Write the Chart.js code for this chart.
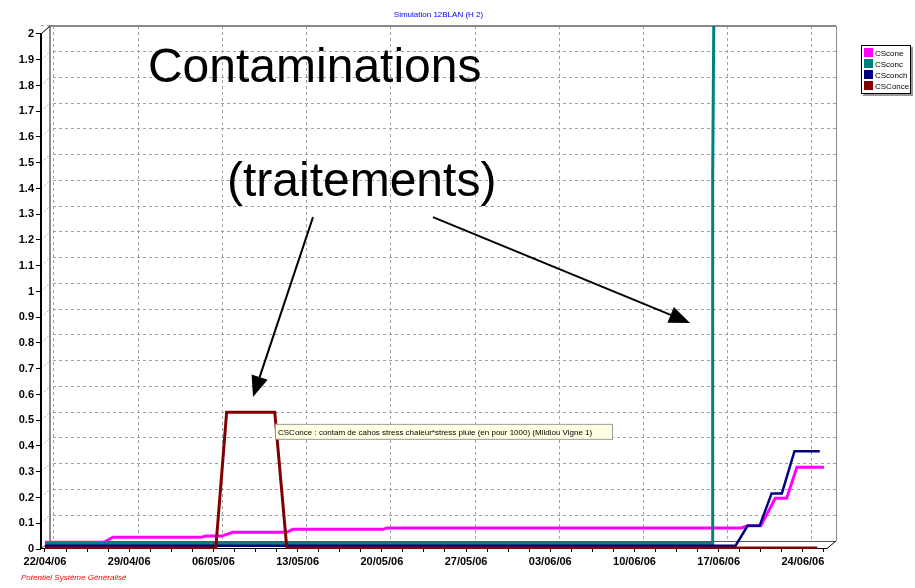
<!DOCTYPE html>
<html>
<head>
<meta charset="utf-8">
<script src="https://cdn.jsdelivr.net/npm/chart.js@4/dist/chart.umd.min.js"></script>
<style>
body{margin:0;background:#fff}
#wrap{position:relative;width:915px;height:588px}
#legende{position:absolute;left:861px;top:45px;border:1px solid #000;box-shadow:2px 2px 0 #9a9a9a;background:#fff;padding:2px 1px 1px 2px;font:8px 'Liberation Sans',Arial,sans-serif;color:#000}
#legende div{height:11px;line-height:11px;white-space:nowrap}
#legende span{display:inline-block;width:9px;height:9px;margin-right:2px;vertical-align:-1px}
</style>
</head>
<body>
<div id="wrap">
  <canvas id="myChart" width="915" height="588"></canvas>
  <div id="legende"></div>
</div>
<script>
// DONNEES (jours depuis le 22/04/06)
const dayTicks = [0, 7, 14, 21, 28, 35, 42, 49, 56, 63];
const dateLabels = ["22/04/06", "29/04/06", "06/05/06", "13/05/06", "20/05/06", "27/05/06", "03/06/06", "10/06/06", "17/06/06", "24/06/06"];
const yTicks = [0, 0.1, 0.2, 0.3, 0.4, 0.5, 0.6, 0.7, 0.8, 0.9, 1, 1.1, 1.2, 1.3, 1.4, 1.5, 1.6, 1.7, 1.8, 1.9, 2];

const seriesNoms = ["CScone", "CSconc", "CSconch", "CSConce"];
const seriesCouleurs = ["#ff00ff", "#008080", "#000080", "#800000"];

const coneJours   = [0, 4.9, 5.65, 13.0, 13.4, 14.7, 15.6, 20.1, 20.6, 28.1, 28.4, 57.9, 58.4, 59.5, 60.7, 61.65, 62.5, 64.75];
const coneValeurs = [0.026, 0.026, 0.046, 0.046, 0.05, 0.05, 0.065, 0.065, 0.0765, 0.0765, 0.0815, 0.0815, 0.09, 0.09, 0.197, 0.197, 0.317, 0.317];

const concJours   = [0, 55.5, 55.5, 55.6];
const concValeurs = [0.021, 0.021, 1.45, 2.1];

const conchJours   = [0, 57.4, 58.4, 59.4, 60.4, 61.25, 62.3, 64.4];
const conchValeurs = [0.013, 0.013, 0.09, 0.09, 0.216, 0.216, 0.38, 0.38];

const conceJours   = [0, 14.2, 15.1, 19.1, 20.1, 64.2];
const conceValeurs = [0.004, 0.004, 0.531, 0.531, 0.004, 0.004];

// bornes des axes et profondeur du cadre 3D
const xMin = -0.33, xMax = 65.75, yMax = 2.031;
const DX = 9, DY = 8;
const pxJour = 795 / (xMax - xMin);
const pxUnite = 523 / yMax;

const police = "'Liberation Sans', Arial, sans-serif";

function points(jours, valeurs) {
    return jours.map((j, i) => ({ x: j, y: valeurs[i] }));
}

// petites graduations tous les 1.75 jours
const minorTicks = [];
dayTicks.forEach(d => { for (let k = 0; k < 4; k++) { if (d + k * 1.75 <= 64.8) minorTicks.push(d + k * 1.75); } });

const datasets = [
    { label: seriesNoms[0], data: points(coneJours, coneValeurs), borderColor: seriesCouleurs[0], borderWidth: 3, order: 4 },
    { label: seriesNoms[1], data: points(concJours, concValeurs), borderColor: seriesCouleurs[1], borderWidth: 3, order: 3 },
    { label: seriesNoms[2], data: points(conchJours, conchValeurs), borderColor: seriesCouleurs[2], borderWidth: 2.5, order: 2 },
    { label: seriesNoms[3], data: points(conceJours, conceValeurs), borderColor: seriesCouleurs[3], borderWidth: 3, order: 1 }
];
datasets.forEach(d => { d.pointRadius = 0; d.tension = 0; d.fill = false; });

// legende en HTML
const legende = document.getElementById("legende");
seriesNoms.forEach((nom, i) => {
    legende.innerHTML += `<div><span style="background:${seriesCouleurs[i]}"></span>${nom}</div>`;
});

function fleche(ctx, x1, y1, x2, y2) {
    const ang = Math.atan2(y2 - y1, x2 - x1);
    const L = 21, W = 8.5;
    const bx = x2 - L * Math.cos(ang), by = y2 - L * Math.sin(ang);
    ctx.beginPath();
    ctx.moveTo(x1, y1);
    ctx.lineTo(bx, by);
    ctx.lineWidth = 2;
    ctx.strokeStyle = "#000";
    ctx.stroke();
    ctx.beginPath();
    ctx.moveTo(x2, y2);
    ctx.lineTo(bx + W * Math.sin(ang), by - W * Math.cos(ang));
    ctx.lineTo(bx - W * Math.sin(ang), by + W * Math.cos(ang));
    ctx.closePath();
    ctx.fillStyle = "#000";
    ctx.fill();
}

const cadre3D = {
    id: "cadre3D",
    beforeDatasetsDraw(chart) {
        const { ctx, chartArea: a, scales } = chart;
        const fl = a.left, fr = a.right - DX, fb = a.bottom, ft = a.top + DY;
        const bl = a.left + DX, br = a.right, bb = a.bottom - DY, bt = a.top;
        ctx.save();
        // sol et mur gauche
        ctx.fillStyle = "#fff";
        ctx.beginPath();
        ctx.moveTo(fl, fb); ctx.lineTo(fr, fb); ctx.lineTo(br, bb); ctx.lineTo(bl, bb); ctx.closePath();
        ctx.fill();
        ctx.beginPath();
        ctx.moveTo(fl, fb); ctx.lineTo(fl, ft); ctx.lineTo(bl, bt); ctx.lineTo(bl, bb); ctx.closePath();
        ctx.fill();
        // graduations sur le mur gauche
        ctx.strokeStyle = "#b0b0b0";
        ctx.lineWidth = 1;
        ctx.setLineDash([2, 2]);
        yTicks.forEach(v => {
            const y = scales.y.getPixelForValue(v);
            ctx.beginPath(); ctx.moveTo(fl, y); ctx.lineTo(bl, y - DY); ctx.stroke();
        });
        ctx.setLineDash([]);
        // aretes du fond
        ctx.strokeStyle = "#8a8a8a";
        ctx.lineWidth = 2;
        ctx.beginPath(); ctx.moveTo(bl, bb); ctx.lineTo(bl, bt); ctx.lineTo(br, bt); ctx.stroke();
        ctx.lineWidth = 1;
        ctx.beginPath(); ctx.moveTo(br + 0.5, bt); ctx.lineTo(br + 0.5, bb); ctx.stroke();
        ctx.strokeStyle = "#555";
        ctx.beginPath(); ctx.moveTo(bl, bb + 0.5); ctx.lineTo(br, bb + 0.5); ctx.stroke();
        ctx.beginPath(); ctx.moveTo(fl, fb); ctx.lineTo(bl, bb); ctx.stroke();
        // aretes de devant
        ctx.strokeStyle = "#000";
        ctx.beginPath(); ctx.moveTo(fl, fb - 0.5); ctx.lineTo(fr, fb - 0.5); ctx.lineTo(br, bb); ctx.stroke();
        ctx.beginPath(); ctx.moveTo(fl, ft); ctx.lineTo(bl, bt); ctx.stroke();
        ctx.lineWidth = 2;
        ctx.beginPath(); ctx.moveTo(fl, ft); ctx.lineTo(fl, fb); ctx.stroke();
        ctx.restore();
    },
    afterDraw(chart) {
        const { ctx, scales: { x, y } } = chart;
        ctx.save();
        ctx.fillStyle = "#000";
        ctx.textBaseline = "alphabetic";
        ctx.textAlign = "left";
        ctx.font = "48px " + police;
        ctx.fillText("Contaminations", x.getPixelForValue(8.56), y.getPixelForValue(1.814));
        ctx.fillText("(traitements)", x.getPixelForValue(15.13), y.getPixelForValue(1.371));
        fleche(ctx, x.getPixelForValue(22.28), y.getPixelForValue(1.289), x.getPixelForValue(17.29), y.getPixelForValue(0.59));
        fleche(ctx, x.getPixelForValue(32.25), y.getPixelForValue(1.289), x.getPixelForValue(53.62), y.getPixelForValue(0.878));

        // bulle d'info
        const tx = x.getPixelForValue(19.12), ty = y.getPixelForValue(0.486);
        const tw = 337, th = 15;
        ctx.fillStyle = "#ffffe1";
        ctx.fillRect(tx, ty, tw, th);
        ctx.strokeStyle = "#9a9a9a";
        ctx.lineWidth = 1;
        ctx.strokeRect(tx + 0.5, ty + 0.5, tw, th);
        ctx.fillStyle = "#000";
        ctx.font = "8px " + police;
        ctx.textBaseline = "middle";
        ctx.fillText("CSConce : contam de cahos stress chaleur*stress pluie (en pour 1000) (Mildiou Vigne 1)", tx + 3, ty + th / 2 + 1, tw - 6);

        // pied
        ctx.fillStyle = "#ff0000";
        ctx.font = "italic 8px " + police;
        ctx.fillText("Potentiel Système Généralisé", 21, 578, 110);
        ctx.restore();
    }
};

const chartDOM = document.getElementById("myChart");
const myChart = new Chart(chartDOM, {
    type: "line",
    data: { datasets },
    options: {
        responsive: false,
        animation: false,
        layout: { padding: { left: 0, right: 79, top: 0, bottom: 19 } },
        plugins: {
            legend: { display: false },
            tooltip: { enabled: false },
            title: {
                display: true,
                text: "Simulation 12BLAN (H 2)",
                color: "#0000ff",
                fullSize: false,
                font: { family: police, size: 8, weight: "normal", lineHeight: 1.2 },
                padding: { top: 10, bottom: 6.4 }
            }
        },
        scales: {
            x: {
                type: "linear",
                min: xMin,
                max: xMax,
                afterBuildTicks: s => { s.ticks = minorTicks.map(v => ({ value: v })); },
                afterFit: s => { s.height = 20; },
                grid: { drawOnChartArea: false, tickLength: 3, color: "#000" },
                border: { display: false },
                ticks: {
                    autoSkip: false, maxRotation: 0, padding: 3, color: "#000",
                    font: { family: police, size: 11, weight: "bold" },
                    callback: v => { const i = dayTicks.indexOf(v); return i >= 0 ? dateLabels[i] : ""; }
                }
            },
            x2: {
                type: "linear",
                position: "bottom",
                min: xMin - DX / pxJour,
                max: xMax - DX / pxJour,
                afterBuildTicks: s => { s.ticks = dayTicks.map(v => ({ value: v })); },
                afterFit: s => { s.height = 0; },
                ticks: { display: false },
                grid: { color: "#a0a0a0", drawTicks: false },
                border: { display: false, dash: [3, 3] }
            },
            y: {
                min: 0,
                max: yMax,
                afterBuildTicks: s => { s.ticks = yTicks.map(v => ({ value: v })); },
                afterFit: s => { s.width = 41; },
                grid: { drawOnChartArea: false, tickLength: 5, color: "#000" },
                border: { display: false },
                ticks: {
                    padding: 2, color: "#000",
                    font: { family: police, size: 11, weight: "bold" },
                    callback: v => String(+v.toFixed(1))
                }
            },
            y2: {
                position: "left",
                min: -DY / pxUnite,
                max: yMax - DY / pxUnite,
                afterBuildTicks: s => { s.ticks = yTicks.map(v => ({ value: v })); },
                afterFit: s => { s.width = 0; },
                ticks: { display: false },
                grid: { color: "#a0a0a0", drawTicks: false },
                border: { display: false, dash: [3, 3] }
            }
        }
    },
    plugins: [cadre3D]
});
</script>
</body>
</html>
